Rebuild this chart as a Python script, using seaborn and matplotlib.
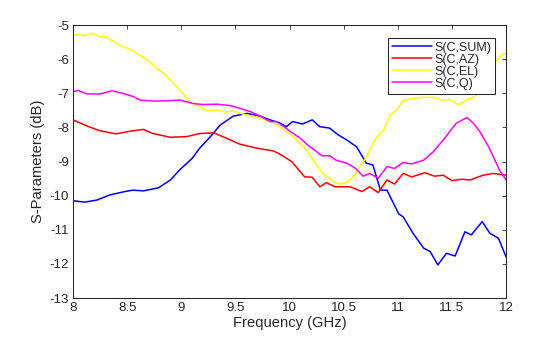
import numpy as np
import pandas as pd
import matplotlib
matplotlib.use("Agg")
import matplotlib.pyplot as plt
import seaborn as sns

# Coupling from port C to each beamformer output, dB vs GHz
freq_sum = [8.00, 8.11, 8.22, 8.34, 8.48, 8.55, 8.65, 8.79, 8.90, 8.99, 9.10, 9.17,
            9.27, 9.36, 9.48, 9.61, 9.73, 9.82, 9.91, 9.97, 10.03, 10.12, 10.21, 10.28,
            10.37, 10.45, 10.53, 10.62, 10.71, 10.77, 10.84, 10.90, 11.01, 11.05, 11.14,
            11.24, 11.30, 11.37, 11.45, 11.53, 11.62, 11.68, 11.78, 11.85, 11.93, 12.00]
s_sum = [-10.15, -10.19, -10.13, -9.98, -9.88, -9.84, -9.86, -9.77, -9.54, -9.23, -8.91, -8.61,
         -8.27, -7.93, -7.67, -7.59, -7.67, -7.78, -7.87, -7.98, -7.83, -7.90, -7.78, -7.98,
         -8.02, -8.22, -8.37, -8.57, -9.05, -9.10, -9.84, -9.84, -10.54, -10.62, -11.10,
         -11.54, -11.64, -12.03, -11.69, -11.77, -11.06, -11.15, -10.76, -11.10, -11.25, -11.79]

freq_az = [8.00, 8.13, 8.25, 8.40, 8.53, 8.65, 8.74, 8.90, 9.05, 9.17, 9.30, 9.42,
           9.54, 9.70, 9.85, 9.91, 10.02, 10.14, 10.21, 10.28, 10.34, 10.42, 10.56, 10.67,
           10.74, 10.82, 10.90, 10.97, 11.05, 11.13, 11.25, 11.34, 11.42, 11.50, 11.59,
           11.67, 11.79, 11.88, 12.00]
s_az = [-7.78, -7.96, -8.10, -8.19, -8.11, -8.06, -8.18, -8.29, -8.27, -8.18, -8.16, -8.32,
        -8.49, -8.61, -8.69, -8.78, -9.00, -9.45, -9.46, -9.74, -9.62, -9.74, -9.74, -9.88,
        -9.74, -9.91, -9.54, -9.66, -9.35, -9.45, -9.33, -9.43, -9.40, -9.56, -9.52,
        -9.54, -9.40, -9.35, -9.40]

freq_el = [8.00, 8.05, 8.11, 8.17, 8.25, 8.31, 8.43, 8.54, 8.65, 8.70, 8.77, 8.85,
           8.93, 9.00, 9.08, 9.14, 9.24, 9.33, 9.40, 9.48, 9.57, 9.70, 9.82, 9.91,
           10.00, 10.07, 10.13, 10.19, 10.25, 10.31, 10.37, 10.45, 10.53, 10.59, 10.65,
           10.71, 10.77, 10.81, 10.87, 10.93, 10.99, 11.05, 11.14, 11.24, 11.33, 11.41,
           11.48, 11.56, 11.64, 11.70, 11.78, 11.85, 11.91, 11.96, 12.00]
s_el = [-5.32, -5.27, -5.32, -5.24, -5.34, -5.36, -5.59, -5.73, -5.95, -6.05, -6.27, -6.44,
        -6.71, -6.95, -7.25, -7.34, -7.51, -7.49, -7.55, -7.52, -7.61, -7.71, -7.83, -7.98,
        -8.19, -8.37, -8.58, -8.81, -9.10, -9.35, -9.49, -9.66, -9.62, -9.45, -9.15,
        -8.88, -8.47, -8.27, -8.08, -7.64, -7.49, -7.22, -7.15, -7.12, -7.12, -7.20,
        -7.18, -7.34, -7.18, -7.12, -6.90, -6.50, -6.05, -5.87, -5.83]

freq_q = [8.00, 8.05, 8.13, 8.25, 8.36, 8.46, 8.56, 8.62, 8.74, 8.87, 8.99, 9.11,
          9.20, 9.33, 9.45, 9.54, 9.64, 9.73, 9.82, 9.88, 9.94, 10.00, 10.10, 10.17,
          10.25, 10.30, 10.37, 10.43, 10.53, 10.61, 10.68, 10.74, 10.82, 10.90, 10.97,
          11.05, 11.13, 11.24, 11.33, 11.42, 11.54, 11.64, 11.70, 11.76, 11.84, 11.89,
          11.94, 12.00]
s_q = [-6.95, -6.92, -7.02, -7.02, -6.93, -7.00, -7.10, -7.20, -7.23, -7.22, -7.20, -7.30,
       -7.33, -7.32, -7.36, -7.44, -7.54, -7.67, -7.83, -7.83, -7.96, -8.10, -8.32, -8.52,
       -8.71, -8.83, -8.83, -8.96, -9.05, -9.20, -9.43, -9.35, -9.49, -9.15, -9.20,
       -9.03, -9.07, -8.96, -8.71, -8.37, -7.88, -7.71, -7.88, -8.13, -8.57, -8.91,
       -9.25, -9.54]

labels = ["S(C,SUM)", "S(C,AZ)", "S(C,EL)", "S(C,Q)"]
colors = ["#0000ff", "#ff0000", "#ffff00", "#ff00ff"]

frames = []
for name, f, s in zip(labels, [freq_sum, freq_az, freq_el, freq_q],
                      [s_sum, s_az, s_el, s_q]):
    frames.append(pd.DataFrame({"Frequency (GHz)": f, "S-Parameters (dB)": s, "trace": name}))
df = pd.concat(frames, ignore_index=True)

sns.set_style("white")
plt.rcParams["font.family"] = ["Liberation Sans", "DejaVu Sans"]

fig = plt.figure(figsize=(5.6, 3.37), dpi=100)
ax = fig.add_axes([0.1304, 0.1157, 0.7732, 0.8101])

sns.lineplot(data=df, x="Frequency (GHz)", y="S-Parameters (dB)", hue="trace",
             hue_order=labels, palette=dict(zip(labels, colors)), linewidth=1.1,
             sort=False, estimator=None, ax=ax)

ax.set_xlim(8, 12)
ax.set_ylim(-13, -5)
ax.set_xticks(np.arange(8, 12.01, 0.5))
ax.set_xticklabels(["8", "8.5", "9", "9.5", "10", "10.5", "11", "11.5", "12"])
ax.set_yticks(np.arange(-13, -4.99, 1))
ax.set_yticklabels([str(v) for v in range(-13, -4)])
ax.tick_params(direction="in", length=3, width=0.6, top=True, right=True,
               labelsize=9.5, colors="#262626", pad=3)
for sp in ax.spines.values():
    sp.set_visible(True)
    sp.set_color("#262626")
    sp.set_linewidth(0.75)
ax.set_xlabel("Frequency (GHz)", fontsize=10.6, color="#262626", labelpad=1)
ax.set_ylabel("S-Parameters (dB)", fontsize=10.6, color="#262626", labelpad=3)

leg = ax.legend(loc="upper right", bbox_to_anchor=(0.975, 0.952), borderaxespad=0,
                fancybox=False, framealpha=1, edgecolor="#262626", fontsize=9,
                handlelength=3.2, handletextpad=0.2, labelspacing=0.0,
                borderpad=0.3, title=None)
leg.get_frame().set_linewidth(0.75)

fig.savefig("out.png", dpi=100)
